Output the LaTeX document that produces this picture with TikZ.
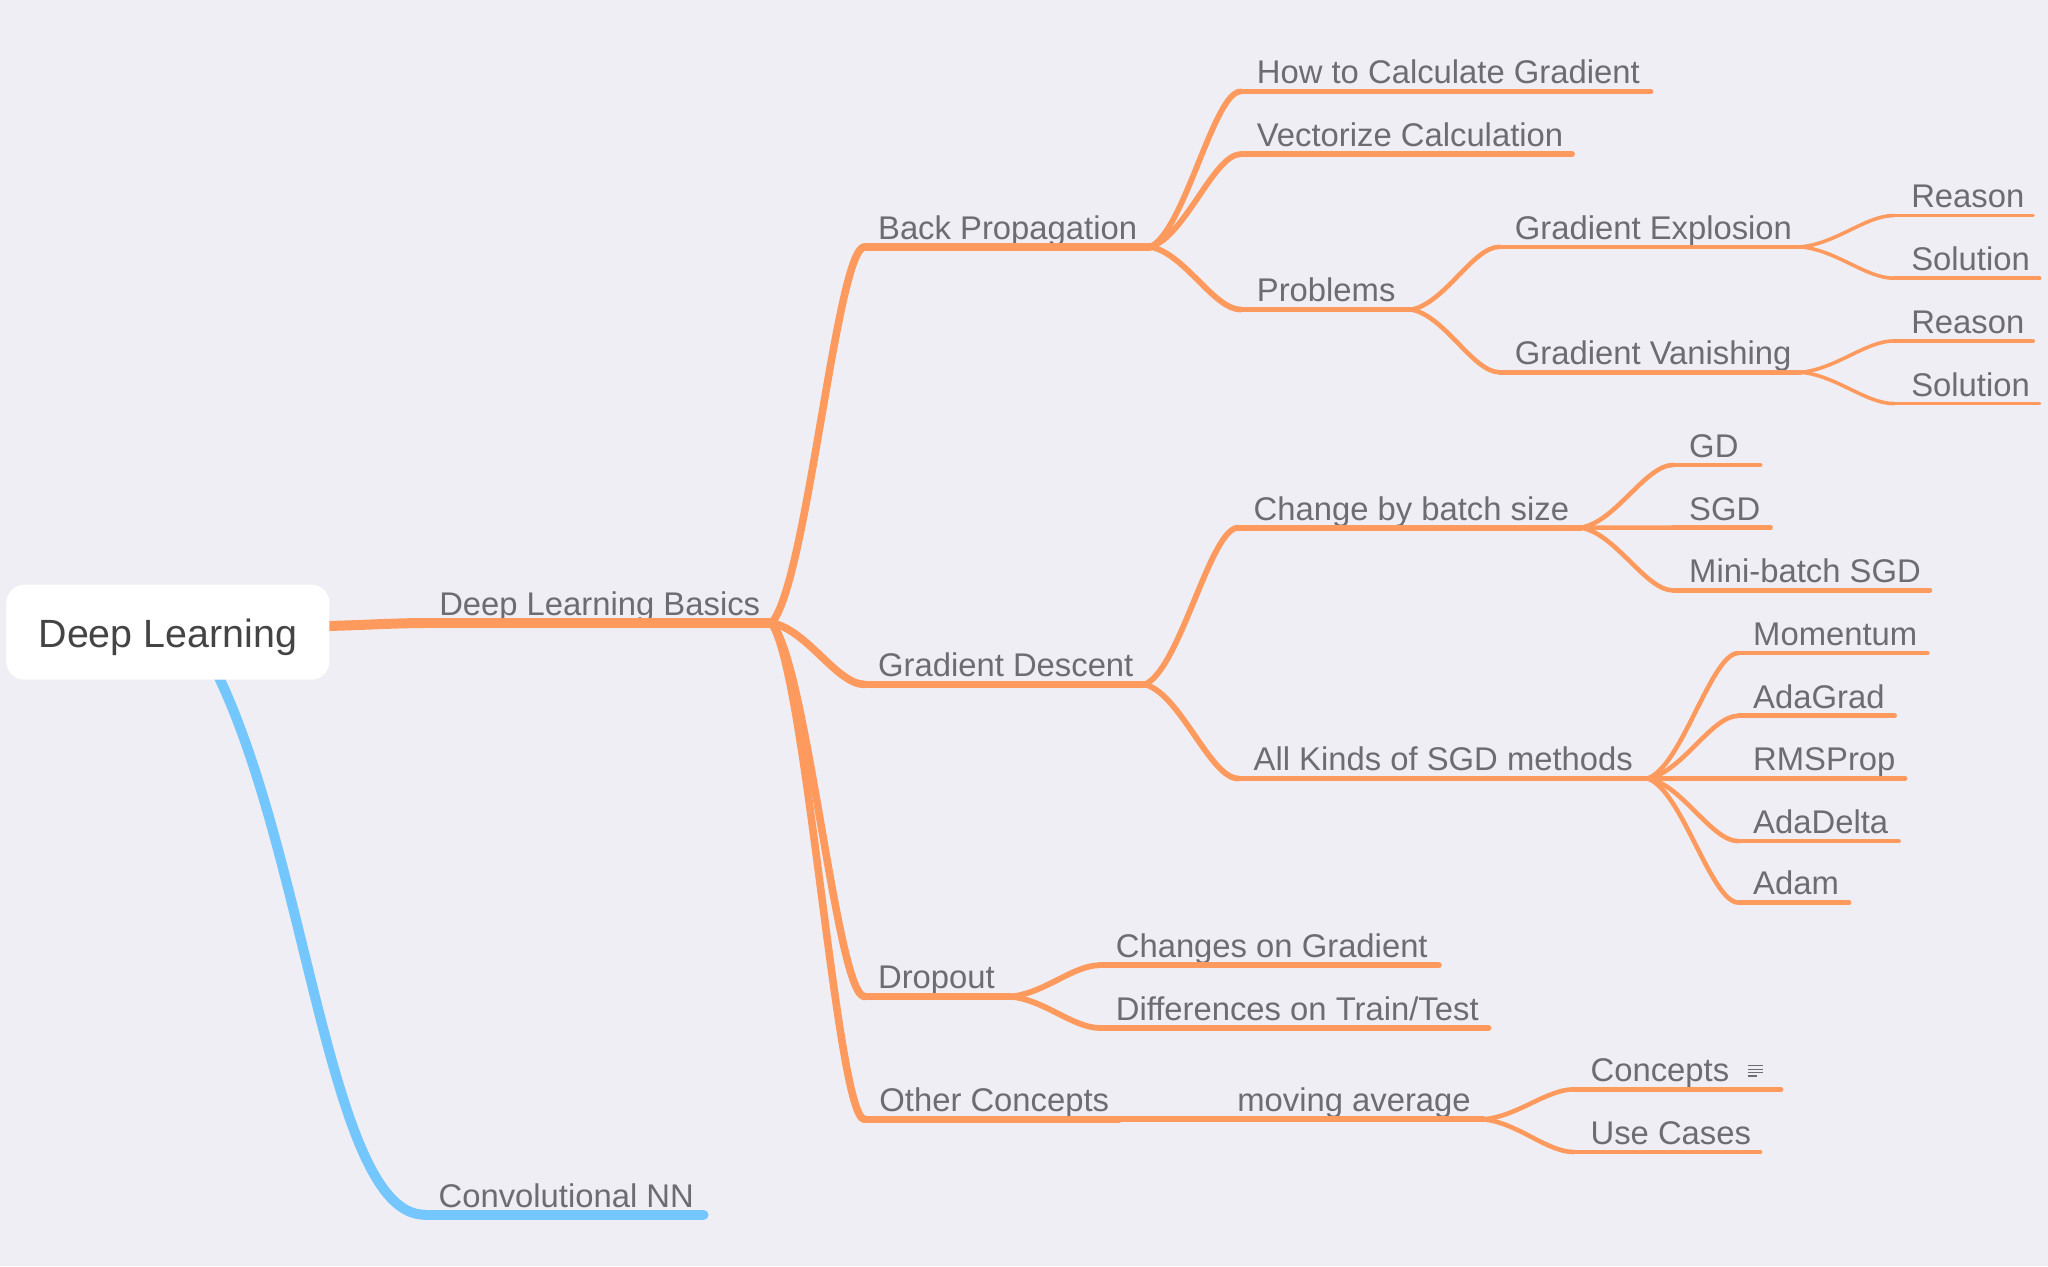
\documentclass[tikz,border=0pt]{standalone}
\usepackage{fontspec}
\setmainfont{Liberation Sans}
\usetikzlibrary{calc,backgrounds}
\definecolor{bgc}{HTML}{EFEEF4}
\definecolor{org}{HTML}{FF9A5E}
\definecolor{blu}{HTML}{74C6FF}
\definecolor{txt}{HTML}{6C6C72}
\definecolor{rtxt}{HTML}{444444}
\tikzset{
  x=0.65306pt,y=-0.65306pt,
  topic/.style={anchor=south west,inner xsep=0pt,inner ysep=1.6pt,text=txt,font=\fontsize{16.4}{18}\selectfont,align=left,text depth=2pt},
  link/.style={draw=org,line cap=round,line join=round},
  under/.style={draw=org,line cap=round},
  wa/.style={line width=5pt},
  wb/.style={line width=3.8pt},
  wc/.style={line width=2.9pt},
  wd/.style={line width=2.3pt},
  we/.style={line width=1.8pt},
}
% \topic[offset]{name}{x0}{x1}{y}{text}{line style}
\newcommand{\topic}[7][12]{%
  \pgfmathsetlengthmacro{\tw}{(#4-#3)*0.65306pt}%
  \pgfmathsetlengthmacro{\ofs}{#1*0.65306pt}%
  \node[topic,text width=\tw] (#2) at (#3,#5) {\spaceskip=.278em\hspace*{\ofs}#6\strut};
  \draw[under,#7] (#2.south west) -- (#2.south east);
}
\newcommand{\conn}[3]{%
  \draw[link,#3] let \p1=(#1.south east),\p2=(#2.south west) in
    (\p1) .. controls ({0.62*\x1+0.38*\x2},{0.9*\y1+0.1*\y2}) and ({0.3*\x1+0.7*\x2},\y2) .. (\p2);
}
\begin{document}
\begin{tikzpicture}
\useasboundingbox (0,0) rectangle (1568,969.3);
\begin{scope}[on background layer]
\fill[bgc] (0,0) rectangle (1568,969.3);
\end{scope}
\node[fill=white,rounded corners=9pt,minimum width=161.5pt,minimum height=47.5pt,inner sep=0pt,text=rtxt,font=\fontsize{19.7}{22}\selectfont,text height=16pt,text depth=0.8pt] (root) at (128.5,484) {Deep Learning};

\topic[11]{dlb}{325}{590}{477}{Deep Learning Basics}{wa}
\topic[10.5]{cnn}{325}{538}{930}{Convolutional NN}{wa,draw=blu}

\topic[10]{bp}{662}{880}{189}{Back Propagation}{wb}
\topic[10]{gd}{662}{876}{524}{Gradient Descent}{wb}
\topic[10]{dr}{662}{773}{763}{Dropout}{wb}
\topic[11]{oc}{662}{856}{857}{Other Concepts}{wb}

\topic{how}{950}{1263}{70}{How to Calculate Gradient}{wc}
\topic{vec}{950}{1203}{118}{Vectorize Calculation}{wc}
\topic{pro}{950}{1080}{237}{Problems}{wc}
\topic[11.5]{cbs}{948}{1210}{404}{Change by batch size}{wc}
\topic[11.5]{akm}{948}{1261}{596}{All Kinds of SGD methods}{wc}
\topic{cog}{842}{1101}{739}{Changes on Gradient}{wc}
\topic{dtt}{842}{1139}{787}{Differences on Train/Test}{wc}
\topic[89]{mav}{858}{1135}{857}{moving average}{wc}

\topic[11.5]{gex}{1148}{1378}{189}{Gradient Explosion}{wd}
\topic[11.5]{gva}{1148}{1378}{285}{Gradient Vanishing}{wd}
\topic{sgd0}{1281}{1347}{356}{GD}{wd}
\topic{sgd1}{1281}{1355}{404}{SGD}{wd}
\topic{sgd2}{1281}{1477}{452}{Mini-batch SGD}{wd}
\topic[11]{mom}{1331}{1475}{500}{Momentum}{wd}
\topic[11]{ada}{1331}{1450}{548}{AdaGrad}{wd}
\topic[11]{rms}{1331}{1458}{596}{RMSProp}{wd}
\topic[11]{add}{1331}{1453}{644}{AdaDelta}{wd}
\topic[11]{adm}{1331}{1415}{691}{Adam}{wd}
\topic[12.5]{con}{1205}{1363}{834}{Concepts}{wd}
\topic[12.5]{use}{1205}{1347}{882}{Use Cases}{wd}

\topic[13]{rea1}{1450}{1556}{165}{Reason}{we}
\topic[13]{sol1}{1450}{1561}{213}{Solution}{we}
\topic[13]{rea2}{1450}{1556}{261}{Reason}{we}
\topic[13]{sol2}{1450}{1561}{309}{Solution}{we}

\begin{scope}[on background layer]
\draw[draw=org,wa] (root.east) ++(-30,-4) .. controls (275,479) and (300,477) .. (dlb.south west);
\draw[draw=blu,wa] ($(root.south)+(30,-20)$) .. controls (235,640) and (250,930) .. (cnn.south west);
\end{scope}

\foreach \c in {bp,gd,dr,oc} {\conn{dlb}{\c}{wb}}
\foreach \c in {how,vec,pro} {\conn{bp}{\c}{wc}}
\foreach \c in {cbs,akm} {\conn{gd}{\c}{wc}}
\foreach \c in {cog,dtt} {\conn{dr}{\c}{wc}}
\conn{oc}{mav}{wc}
\foreach \c in {gex,gva} {\conn{pro}{\c}{wd}}
\foreach \c in {sgd0,sgd1,sgd2} {\conn{cbs}{\c}{wd}}
\foreach \c in {mom,ada,rms,add,adm} {\conn{akm}{\c}{wd}}
\foreach \c in {con,use} {\conn{mav}{\c}{wd}}
\foreach \c in {rea1,sol1} {\conn{gex}{\c}{we}}
\foreach \c in {rea2,sol2} {\conn{gva}{\c}{we}}

% note icon beside Concepts
\draw[txt,line width=0.55pt] (1338,816) -- (1350,816) (1338,818.6) -- (1350,818.6) (1338,821.2) -- (1350,821.2) (1338,823.8) -- (1345,823.8);
\end{tikzpicture}
\end{document}
